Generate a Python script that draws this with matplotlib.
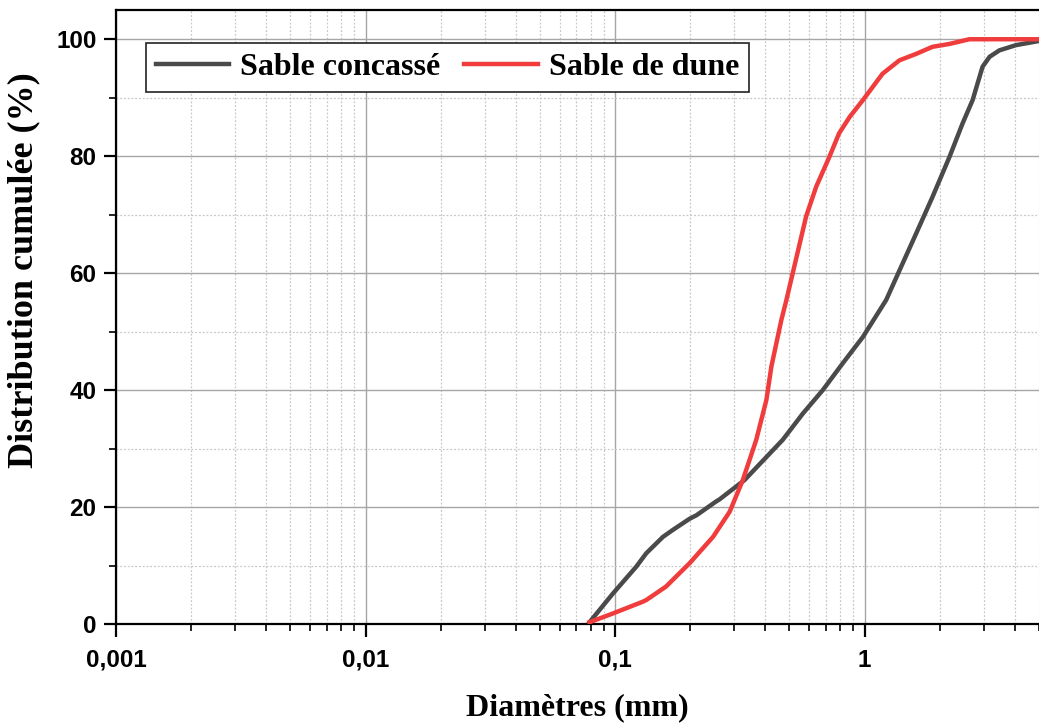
import matplotlib
matplotlib.use("Agg")
import matplotlib.pyplot as plt
from matplotlib.ticker import LogLocator, FixedLocator, FuncFormatter, NullFormatter

# Sable concassé
d_concasse = [0.079, 0.098, 0.1216, 0.1334, 0.1556, 0.1706, 0.199, 0.212, 0.255, 0.262,
              0.33, 0.47, 0.566, 0.68, 0.818, 0.985, 1.22, 1.61, 1.87, 2.19,
              2.47, 2.71, 2.89, 2.97, 3.17, 3.47, 4.05, 5.0]
p_concasse = [0.3, 5.2, 9.8, 12.1, 14.9, 16.1, 18.0, 18.6, 21.0, 21.3,
              24.6, 31.5, 36.0, 40.0, 44.6, 49.1, 55.4, 66.8, 73.0, 79.9,
              85.6, 89.6, 93.6, 95.3, 97.0, 98.1, 99.0, 99.7]

# Sable de dune
d_dune = [0.079, 0.098, 0.129, 0.1334, 0.160, 0.199, 0.247, 0.288, 0.325, 0.368,
          0.404, 0.423, 0.443, 0.464, 0.486, 0.583, 0.64, 0.723, 0.79, 0.871,
          0.985, 1.18, 1.38, 1.61, 1.87, 2.19, 2.63, 5.0]
p_dune = [0.3, 1.8, 3.8, 4.1, 6.4, 10.4, 14.9, 19.2, 24.6, 31.5,
          38.3, 44.0, 48.0, 52.0, 55.4, 69.7, 74.8, 79.9, 83.9, 86.7,
          89.6, 94.1, 96.4, 97.5, 98.7, 99.2, 100.0, 100.0]

y_major = [0, 20, 40, 60, 80, 100]
y_minor = [10, 30, 50, 70, 90]

serif = ['Liberation Serif', 'DejaVu Serif']
sans = ['Liberation Sans', 'DejaVu Sans']

fig = plt.figure(figsize=(10.39, 7.24), dpi=100)
ax = fig.add_axes([116 / 1039, 100 / 724, 923 / 1039, 614 / 724])

ax.plot(d_concasse, p_concasse, color='#4a4a4a', lw=3.2, label='Sable concassé',
        zorder=3, solid_joinstyle='round')
ax.plot(d_dune, p_dune, color='#f03c3c', lw=3.2, label='Sable de dune',
        zorder=3, solid_joinstyle='round')

ax.set_xscale('log')
ax.set_xlim(0.001, 5)
ax.set_ylim(0, 105)

ax.xaxis.set_major_locator(LogLocator(base=10, numticks=10))
ax.xaxis.set_minor_locator(LogLocator(base=10, subs=range(2, 10), numticks=20))
ax.xaxis.set_major_formatter(FuncFormatter(lambda v, p: ('%g' % v).replace('.', ',')))
ax.xaxis.set_minor_formatter(NullFormatter())
ax.yaxis.set_major_locator(FixedLocator(y_major))
ax.yaxis.set_minor_locator(FixedLocator(y_minor))

ax.grid(which='major', color='#a6a6a6', lw=1.0, ls='-')
ax.grid(which='minor', color='#c8c8c8', lw=0.9, ls=(0, (1.5, 1.5)))
ax.set_axisbelow(True)

for s in ['left', 'bottom', 'top']:
    ax.spines[s].set_linewidth(1.6)
ax.spines['right'].set_visible(False)

ax.tick_params(which='major', direction='out', length=9, width=1.6, pad=5)
ax.tick_params(which='minor', direction='out', length=5, width=1.2)
ax.tick_params(axis='x', which='major', pad=9)

for lbl in ax.get_xticklabels() + ax.get_yticklabels():
    lbl.set_family(sans)
    lbl.set_fontweight('bold')
    lbl.set_fontsize(17.5)

ax.set_xlabel('Diamètres (mm)', family=serif, fontweight='bold', fontsize=23)
ax.xaxis.set_label_coords(0.5, -0.113)
ax.set_ylabel('Distribution cumulée (%)', family=serif, fontweight='bold', fontsize=26)
ax.yaxis.set_label_coords(-0.082, 0.577)

leg = ax.legend(loc='upper left', bbox_to_anchor=(0.0325, 0.946), ncol=2,
                prop={'family': serif, 'weight': 'bold', 'size': 23},
                frameon=True, fancybox=False, edgecolor='#222222', framealpha=1,
                borderaxespad=0, handlelength=2.3, columnspacing=0.75,
                handletextpad=0.35, borderpad=0.3)
leg.get_frame().set_linewidth(1.2)

fig.savefig('out.png', dpi=100)
